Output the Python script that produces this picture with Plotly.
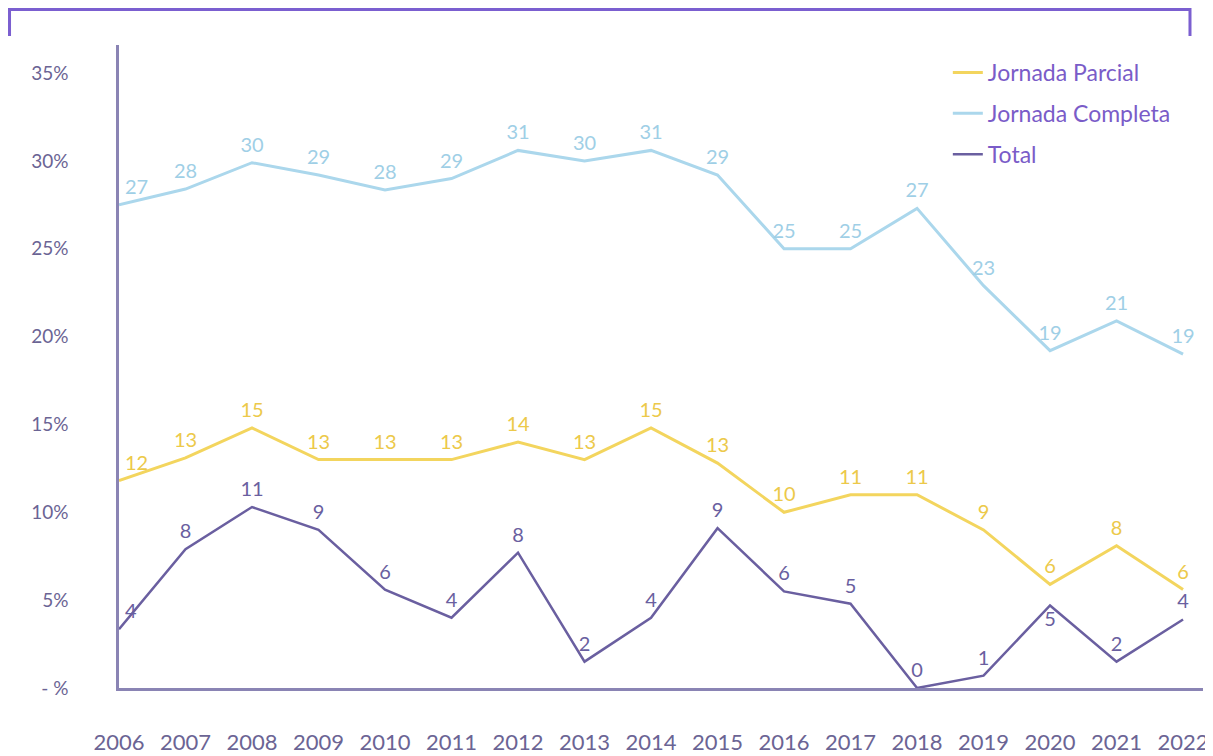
import plotly.graph_objects as go

years = list(range(2006, 2023))
parcial = [11.8, 13.1, 14.8, 13.0, 13.0, 13.0, 14.0, 13.0, 14.8, 12.8, 10.0, 11.0, 11.0, 9.0, 5.9, 8.1, 5.6]
completa = [27.5, 28.4, 29.9, 29.2, 28.35, 29.0, 30.6, 30.0, 30.6, 29.2, 25.0, 25.0, 27.3, 22.9, 19.2, 20.9, 19.0]
total = [3.35, 7.9, 10.3, 9.0, 5.6, 4.0, 7.7, 1.5, 4.0, 9.1, 5.5, 4.8, 0.0, 0.7, 4.7, 1.5, 3.9]

parcial_lbl = ["12", "13", "15", "13", "13", "13", "14", "13", "15", "13", "10", "11", "11", "9", "6", "8", "6"]
completa_lbl = ["27", "28", "30", "29", "28", "29", "31", "30", "31", "29", "25", "25", "27", "23", "19", "21", "19"]
total_lbl = ["4", "8", "11", "9", "6", "4", "8", "2", "4", "9", "6", "5", "0", "1", "5", "2", "4"]

y_ticks = [0, 5, 10, 15, 20, 25, 30, 35]
y_ticktext = ["- %", "5%", "10%", "15%", "20%", "25%", "30%", "35%"]

FONT = "Lato"
C_PAR = "#f3d55e"
C_COM = "#abd7ec"
C_TOT = "#6a5fa0"
C_AX = "#8a84b4"
C_TICK = "#6b6494"
C_LEG = "#7a5cc8"

def positions(n, special):
    pos = ["top center"] * n
    for i, p in special.items():
        pos[i] = p
    return pos

MK = dict(size=8, color="rgba(0,0,0,0)")

fig = go.Figure()
fig.add_trace(go.Scatter(
    x=years, y=parcial, mode="lines+markers+text", name="Jornada Parcial",
    line=dict(color=C_PAR, width=3), marker=MK,
    text=parcial_lbl,
    textposition=positions(17, {0: "top right"}),
    textfont=dict(color="#ecc94a", size=20, family=FONT), legendgroup="a", cliponaxis=False))
fig.add_trace(go.Scatter(
    x=years, y=completa, mode="lines+markers+text", name="Jornada Completa",
    line=dict(color=C_COM, width=3), marker=MK,
    text=completa_lbl,
    textposition=positions(17, {0: "top right"}),
    textfont=dict(color="#9fcfe6", size=20, family=FONT), legendgroup="b", cliponaxis=False))
fig.add_trace(go.Scatter(
    x=years, y=total, mode="lines+markers+text", name="Total",
    line=dict(color=C_TOT, width=2.5), marker=MK,
    text=total_lbl,
    textposition=positions(17, {0: "top right", 14: "bottom center"}),
    textfont=dict(color=C_TOT, size=20, family=FONT), legendgroup="c", cliponaxis=False))

# top bracket
fig.add_shape(type="path", xref="paper", yref="paper",
              path="M -0.1010,1.014 L -0.1010,1.0552 L 0.988,1.0552 L 0.988,1.014",
              line=dict(color="#7b5fd0", width=3))

fig.update_layout(
    width=1213, height=756,
    margin=dict(l=111, r=18, t=37, b=76),
    paper_bgcolor="white", plot_bgcolor="white",
    font=dict(family=FONT, color=C_TICK),
    legend=dict(x=0.7646, y=0.9907, xanchor="left", yanchor="top",
                font=dict(size=23, color=C_LEG, family=FONT),
                tracegroupgap=8, bgcolor="rgba(0,0,0,0)"),
    showlegend=True,
)
fig.update_xaxes(range=[2006, 2022.3], tickvals=years, ticktext=[str(y) for y in years],
                 showgrid=False, zeroline=False, showline=True, linecolor=C_AX, linewidth=2.5,
                 ticks="", ticklabelstandoff=33, automargin=False,
                 tickfont=dict(size=22, color=C_TICK, family=FONT))
fig.update_yaxes(range=[0, 36.6], tickvals=y_ticks, ticktext=y_ticktext,
                 showgrid=False, zeroline=False, showline=True, linecolor=C_AX, linewidth=2.5,
                 ticks="", ticklabelstandoff=44, automargin=False,
                 tickfont=dict(size=19, color=C_TICK, family=FONT))

fig.write_html("out.html")
